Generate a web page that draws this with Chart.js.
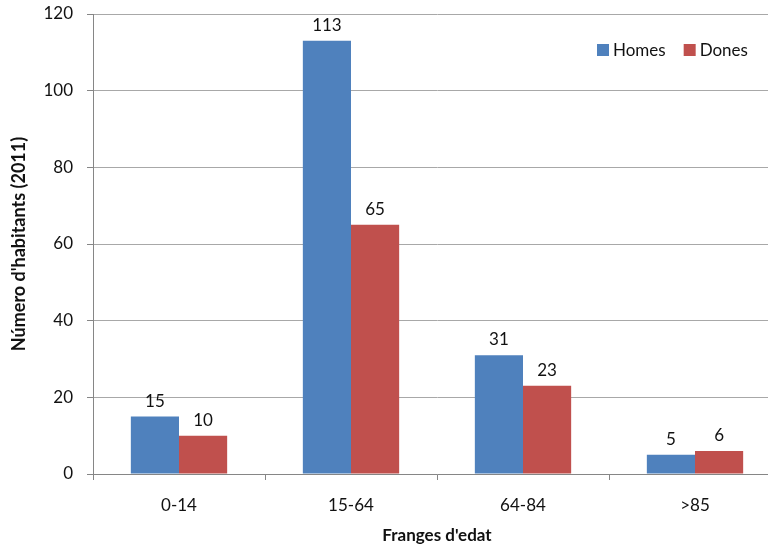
<!DOCTYPE html>
<html>
<head>
<meta charset="utf-8">
<script src="https://cdn.jsdelivr.net/npm/chart.js@4"></script>
<style>
  html, body { margin: 0; padding: 0; background: #fff; overflow: hidden; }
  #wrap { position: relative; width: 792px; height: 544px; }
</style>
</head>
<body>
<div id="wrap"><canvas id="chart"></canvas></div>
<script>
// --- Données ---
const categories = ['0-14', '15-64', '64-84', '>85'];
const homes = [15, 113, 31, 5];
const dones = [10, 65, 23, 6];
const yTicks = [0, 20, 40, 60, 80, 100, 120];

const BLUE = '#4F81BD';
const RED = '#C0504D';
const AXIS = '#868686';

Chart.defaults.font.family = 'Lato, "Open Sans", sans-serif';
Chart.defaults.font.size = 17;
Chart.defaults.color = '#111';

// Étiquettes de valeur au-dessus des barres
const valueLabels = {
    id: 'valueLabels',
    afterDatasetsDraw(chart) {
        const ctx = chart.ctx;
        ctx.save();
        ctx.font = '17px Lato, "Open Sans", sans-serif';
        ctx.fillStyle = '#111';
        ctx.textAlign = 'center';
        ctx.textBaseline = 'alphabetic';
        chart.data.datasets.forEach((ds, i) => {
            chart.getDatasetMeta(i).data.forEach((bar, j) => {
                ctx.fillText(String(ds.data[j]), bar.x, bar.y - 10);
            });
        });
        ctx.restore();
    }
};

// Légende dans la zone du graphique (en haut à droite)
const innerLegend = {
    id: 'innerLegend',
    afterDraw(chart) {
        const ctx = chart.ctx;
        ctx.save();
        ctx.font = '17px Lato, "Open Sans", sans-serif';
        ctx.textBaseline = 'middle';
        ctx.textAlign = 'left';
        let x = 597;
        const y = 50;
        chart.data.datasets.forEach(ds => {
            ctx.fillStyle = ds.backgroundColor;
            ctx.fillRect(x, y - 6, 12, 12);
            ctx.fillStyle = '#111';
            ctx.fillText(ds.label, x + 16, y + 1);
            x += 16 + ctx.measureText(ds.label).width + 18;
        });
        ctx.restore();
    }
};

new Chart(document.getElementById('chart'), {
    type: 'bar',
    data: {
        labels: categories,
        datasets: [
            { label: 'Homes', data: homes, backgroundColor: BLUE, categoryPercentage: 0.56, barPercentage: 1 },
            { label: 'Dones', data: dones, backgroundColor: RED, categoryPercentage: 0.56, barPercentage: 1 }
        ]
    },
    options: {
        responsive: true,
        maintainAspectRatio: false,
        animation: false,
        layout: { autoPadding: false, padding: { left: 0, right: 11, top: 14, bottom: 0 } },
        scales: {
            x: {
                afterFit: s => { s.height = 70; },
                border: { color: AXIS },
                grid: { display: true, drawOnChartArea: false, offset: true, tickLength: 6, color: AXIS },
                ticks: { padding: 15, maxRotation: 0 },
                title: { display: true, text: "Franges d'edat", font: { weight: 'bold', size: 17 }, padding: { top: 0, bottom: -2 } }
            },
            y: {
                min: 0,
                max: 120,
                afterFit: s => { s.width = 93; s.paddingTop = 0; s.paddingBottom = 0; },
                afterBuildTicks: s => { s.ticks = yTicks.map(v => ({ value: v })); },
                border: { color: AXIS },
                grid: { color: '#a8a8a8', tickColor: AXIS, tickLength: 6 },
                ticks: { padding: 14 },
                title: { display: true, text: "Número d'habitants (2011)", font: { weight: 'bold', size: 18 }, padding: { top: 8, bottom: 0 } }
            }
        },
        plugins: {
            legend: { display: false },
            tooltip: { enabled: false }
        }
    },
    plugins: [valueLabels, innerLegend]
});
</script>
</body>
</html>
